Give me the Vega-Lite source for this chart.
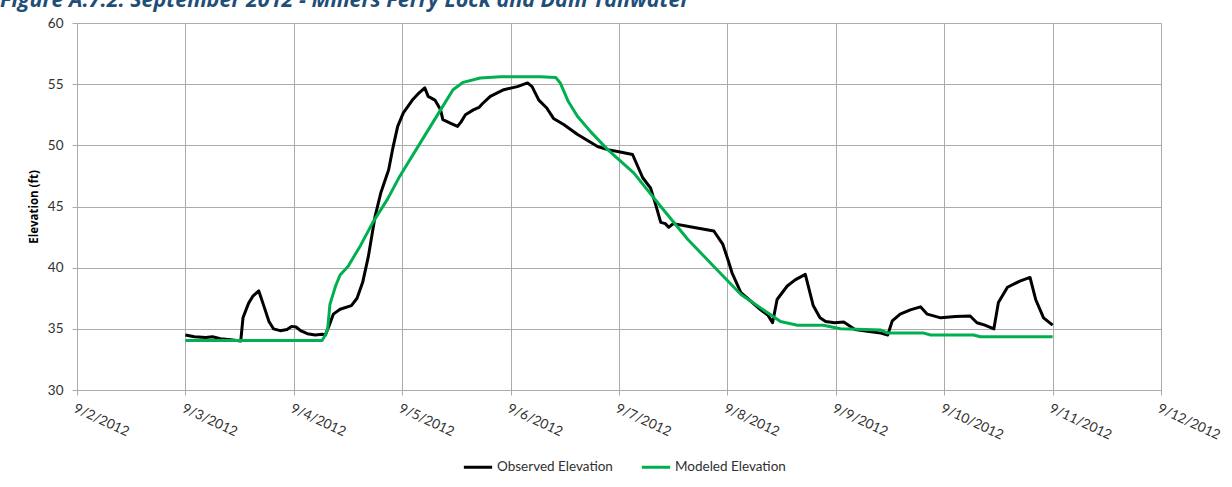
{
  "$schema": "https://vega.github.io/schema/vega-lite/v6.json",
  "width": 1084,
  "height": 367,
  "autosize": "none",
  "padding": {"left": 77, "top": 23, "right": 71, "bottom": 97},
  "background": "white",
  "title": {
    "text": "Figure A.7.2. September 2012 - Millers Ferry Lock and Dam Tailwater",
    "anchor": "start",
    "frame": "group",
    "dx": -77,
    "offset": 5,
    "fontSize": 21.5,
    "fontStyle": "italic",
    "fontWeight": "bold",
    "font": "Open Sans",
    "color": "#1F4E79"
  },
  "config": {
    "view": {"stroke": null},
    "font": "Lato",
    "axis": {
      "gridColor": "#ABABAB",
      "gridWidth": 1,
      "domainColor": "#ABABAB",
      "tickColor": "#ABABAB",
      "labelColor": "#303030",
      "labelFont": "Lato",
      "labelFontSize": 13.5
    }
  },
  "data": {
    "values": [
      {"t": "2012-09-03T00:00", "s": "Observed Elevation", "v": 34.5},
      {"t": "2012-09-03T02:00", "s": "Observed Elevation", "v": 34.35},
      {"t": "2012-09-03T04:30", "s": "Observed Elevation", "v": 34.3},
      {"t": "2012-09-03T06:00", "s": "Observed Elevation", "v": 34.35},
      {"t": "2012-09-03T07:45", "s": "Observed Elevation", "v": 34.2},
      {"t": "2012-09-03T10:00", "s": "Observed Elevation", "v": 34.1},
      {"t": "2012-09-03T12:15", "s": "Observed Elevation", "v": 34.0},
      {"t": "2012-09-03T12:45", "s": "Observed Elevation", "v": 35.9},
      {"t": "2012-09-03T14:00", "s": "Observed Elevation", "v": 37.1},
      {"t": "2012-09-03T15:00", "s": "Observed Elevation", "v": 37.7},
      {"t": "2012-09-03T16:15", "s": "Observed Elevation", "v": 38.1},
      {"t": "2012-09-03T17:15", "s": "Observed Elevation", "v": 37.0},
      {"t": "2012-09-03T18:30", "s": "Observed Elevation", "v": 35.6},
      {"t": "2012-09-03T19:30", "s": "Observed Elevation", "v": 35.0},
      {"t": "2012-09-03T21:00", "s": "Observed Elevation", "v": 34.85},
      {"t": "2012-09-03T22:30", "s": "Observed Elevation", "v": 34.95},
      {"t": "2012-09-03T23:30", "s": "Observed Elevation", "v": 35.2},
      {"t": "2012-09-04T00:30", "s": "Observed Elevation", "v": 35.15},
      {"t": "2012-09-04T01:30", "s": "Observed Elevation", "v": 34.85},
      {"t": "2012-09-04T03:00", "s": "Observed Elevation", "v": 34.6},
      {"t": "2012-09-04T04:45", "s": "Observed Elevation", "v": 34.5},
      {"t": "2012-09-04T06:15", "s": "Observed Elevation", "v": 34.55},
      {"t": "2012-09-04T07:00", "s": "Observed Elevation", "v": 34.5},
      {"t": "2012-09-04T07:45", "s": "Observed Elevation", "v": 35.2},
      {"t": "2012-09-04T08:45", "s": "Observed Elevation", "v": 36.2},
      {"t": "2012-09-04T10:15", "s": "Observed Elevation", "v": 36.6},
      {"t": "2012-09-04T12:45", "s": "Observed Elevation", "v": 36.9},
      {"t": "2012-09-04T14:00", "s": "Observed Elevation", "v": 37.5},
      {"t": "2012-09-04T15:15", "s": "Observed Elevation", "v": 38.8},
      {"t": "2012-09-04T16:30", "s": "Observed Elevation", "v": 40.9},
      {"t": "2012-09-04T18:00", "s": "Observed Elevation", "v": 44.2},
      {"t": "2012-09-04T19:15", "s": "Observed Elevation", "v": 46.1},
      {"t": "2012-09-04T21:00", "s": "Observed Elevation", "v": 48.0},
      {"t": "2012-09-04T22:00", "s": "Observed Elevation", "v": 49.9},
      {"t": "2012-09-04T23:00", "s": "Observed Elevation", "v": 51.55},
      {"t": "2012-09-05T00:15", "s": "Observed Elevation", "v": 52.65},
      {"t": "2012-09-05T02:15", "s": "Observed Elevation", "v": 53.7},
      {"t": "2012-09-05T03:30", "s": "Observed Elevation", "v": 54.2},
      {"t": "2012-09-05T05:00", "s": "Observed Elevation", "v": 54.7},
      {"t": "2012-09-05T05:45", "s": "Observed Elevation", "v": 54.0},
      {"t": "2012-09-05T07:15", "s": "Observed Elevation", "v": 53.7},
      {"t": "2012-09-05T08:30", "s": "Observed Elevation", "v": 52.9},
      {"t": "2012-09-05T09:00", "s": "Observed Elevation", "v": 52.1},
      {"t": "2012-09-05T10:45", "s": "Observed Elevation", "v": 51.8},
      {"t": "2012-09-05T12:15", "s": "Observed Elevation", "v": 51.55},
      {"t": "2012-09-05T13:00", "s": "Observed Elevation", "v": 51.9},
      {"t": "2012-09-05T14:00", "s": "Observed Elevation", "v": 52.5},
      {"t": "2012-09-05T15:45", "s": "Observed Elevation", "v": 52.9},
      {"t": "2012-09-05T17:00", "s": "Observed Elevation", "v": 53.1},
      {"t": "2012-09-05T17:45", "s": "Observed Elevation", "v": 53.4},
      {"t": "2012-09-05T19:30", "s": "Observed Elevation", "v": 54.0},
      {"t": "2012-09-05T22:30", "s": "Observed Elevation", "v": 54.55},
      {"t": "2012-09-06T01:30", "s": "Observed Elevation", "v": 54.8},
      {"t": "2012-09-06T03:45", "s": "Observed Elevation", "v": 55.1},
      {"t": "2012-09-06T04:45", "s": "Observed Elevation", "v": 54.8},
      {"t": "2012-09-06T06:15", "s": "Observed Elevation", "v": 53.7},
      {"t": "2012-09-06T08:00", "s": "Observed Elevation", "v": 53.05},
      {"t": "2012-09-06T09:30", "s": "Observed Elevation", "v": 52.2},
      {"t": "2012-09-06T11:45", "s": "Observed Elevation", "v": 51.7},
      {"t": "2012-09-06T14:45", "s": "Observed Elevation", "v": 50.9},
      {"t": "2012-09-06T19:15", "s": "Observed Elevation", "v": 49.9},
      {"t": "2012-09-06T21:30", "s": "Observed Elevation", "v": 49.65},
      {"t": "2012-09-07T00:15", "s": "Observed Elevation", "v": 49.45},
      {"t": "2012-09-07T03:00", "s": "Observed Elevation", "v": 49.25},
      {"t": "2012-09-07T05:15", "s": "Observed Elevation", "v": 47.35},
      {"t": "2012-09-07T07:00", "s": "Observed Elevation", "v": 46.5},
      {"t": "2012-09-07T08:00", "s": "Observed Elevation", "v": 45.3},
      {"t": "2012-09-07T09:15", "s": "Observed Elevation", "v": 43.7},
      {"t": "2012-09-07T10:15", "s": "Observed Elevation", "v": 43.6},
      {"t": "2012-09-07T11:00", "s": "Observed Elevation", "v": 43.3},
      {"t": "2012-09-07T12:00", "s": "Observed Elevation", "v": 43.6},
      {"t": "2012-09-07T15:45", "s": "Observed Elevation", "v": 43.35},
      {"t": "2012-09-07T21:00", "s": "Observed Elevation", "v": 43.0},
      {"t": "2012-09-07T23:00", "s": "Observed Elevation", "v": 41.9},
      {"t": "2012-09-08T00:15", "s": "Observed Elevation", "v": 40.5},
      {"t": "2012-09-08T01:00", "s": "Observed Elevation", "v": 39.6},
      {"t": "2012-09-08T03:00", "s": "Observed Elevation", "v": 37.95},
      {"t": "2012-09-08T07:15", "s": "Observed Elevation", "v": 36.6},
      {"t": "2012-09-08T09:00", "s": "Observed Elevation", "v": 36.1},
      {"t": "2012-09-08T10:00", "s": "Observed Elevation", "v": 35.5},
      {"t": "2012-09-08T11:00", "s": "Observed Elevation", "v": 37.4},
      {"t": "2012-09-08T13:15", "s": "Observed Elevation", "v": 38.5},
      {"t": "2012-09-08T15:00", "s": "Observed Elevation", "v": 39.0},
      {"t": "2012-09-08T17:15", "s": "Observed Elevation", "v": 39.45},
      {"t": "2012-09-08T19:00", "s": "Observed Elevation", "v": 36.9},
      {"t": "2012-09-08T20:30", "s": "Observed Elevation", "v": 35.9},
      {"t": "2012-09-08T21:45", "s": "Observed Elevation", "v": 35.6},
      {"t": "2012-09-08T23:45", "s": "Observed Elevation", "v": 35.5},
      {"t": "2012-09-09T01:45", "s": "Observed Elevation", "v": 35.55},
      {"t": "2012-09-09T04:15", "s": "Observed Elevation", "v": 34.95},
      {"t": "2012-09-09T07:00", "s": "Observed Elevation", "v": 34.8},
      {"t": "2012-09-09T10:00", "s": "Observed Elevation", "v": 34.65},
      {"t": "2012-09-09T11:30", "s": "Observed Elevation", "v": 34.5},
      {"t": "2012-09-09T12:30", "s": "Observed Elevation", "v": 35.65},
      {"t": "2012-09-09T14:15", "s": "Observed Elevation", "v": 36.2},
      {"t": "2012-09-09T16:30", "s": "Observed Elevation", "v": 36.55},
      {"t": "2012-09-09T18:45", "s": "Observed Elevation", "v": 36.8},
      {"t": "2012-09-09T20:15", "s": "Observed Elevation", "v": 36.2},
      {"t": "2012-09-09T23:15", "s": "Observed Elevation", "v": 35.9},
      {"t": "2012-09-10T02:30", "s": "Observed Elevation", "v": 36.0},
      {"t": "2012-09-10T05:45", "s": "Observed Elevation", "v": 36.05},
      {"t": "2012-09-10T07:15", "s": "Observed Elevation", "v": 35.5},
      {"t": "2012-09-10T09:00", "s": "Observed Elevation", "v": 35.3},
      {"t": "2012-09-10T11:00", "s": "Observed Elevation", "v": 35.0},
      {"t": "2012-09-10T12:00", "s": "Observed Elevation", "v": 37.15},
      {"t": "2012-09-10T14:00", "s": "Observed Elevation", "v": 38.4},
      {"t": "2012-09-10T16:45", "s": "Observed Elevation", "v": 38.9},
      {"t": "2012-09-10T19:00", "s": "Observed Elevation", "v": 39.2},
      {"t": "2012-09-10T20:15", "s": "Observed Elevation", "v": 37.4},
      {"t": "2012-09-10T22:00", "s": "Observed Elevation", "v": 35.9},
      {"t": "2012-09-11T00:00", "s": "Observed Elevation", "v": 35.3},
      {"t": "2012-09-03T00:00", "s": "Modeled Elevation", "v": 34.05},
      {"t": "2012-09-04T06:15", "s": "Modeled Elevation", "v": 34.05},
      {"t": "2012-09-04T07:00", "s": "Modeled Elevation", "v": 34.5},
      {"t": "2012-09-04T07:30", "s": "Modeled Elevation", "v": 35.0},
      {"t": "2012-09-04T08:00", "s": "Modeled Elevation", "v": 37.0},
      {"t": "2012-09-04T09:15", "s": "Modeled Elevation", "v": 38.5},
      {"t": "2012-09-04T10:15", "s": "Modeled Elevation", "v": 39.4},
      {"t": "2012-09-04T12:00", "s": "Modeled Elevation", "v": 40.1},
      {"t": "2012-09-04T14:45", "s": "Modeled Elevation", "v": 41.8},
      {"t": "2012-09-04T17:30", "s": "Modeled Elevation", "v": 43.7},
      {"t": "2012-09-04T20:45", "s": "Modeled Elevation", "v": 45.6},
      {"t": "2012-09-04T23:30", "s": "Modeled Elevation", "v": 47.5},
      {"t": "2012-09-05T04:00", "s": "Modeled Elevation", "v": 50.2},
      {"t": "2012-09-05T08:30", "s": "Modeled Elevation", "v": 52.9},
      {"t": "2012-09-05T11:15", "s": "Modeled Elevation", "v": 54.55},
      {"t": "2012-09-05T13:30", "s": "Modeled Elevation", "v": 55.15},
      {"t": "2012-09-05T17:15", "s": "Modeled Elevation", "v": 55.5},
      {"t": "2012-09-05T21:45", "s": "Modeled Elevation", "v": 55.6},
      {"t": "2012-09-06T06:30", "s": "Modeled Elevation", "v": 55.6},
      {"t": "2012-09-06T10:00", "s": "Modeled Elevation", "v": 55.55},
      {"t": "2012-09-06T11:00", "s": "Modeled Elevation", "v": 55.1},
      {"t": "2012-09-06T12:45", "s": "Modeled Elevation", "v": 53.6},
      {"t": "2012-09-06T14:45", "s": "Modeled Elevation", "v": 52.4},
      {"t": "2012-09-06T17:45", "s": "Modeled Elevation", "v": 51.1},
      {"t": "2012-09-06T21:30", "s": "Modeled Elevation", "v": 49.65},
      {"t": "2012-09-07T03:15", "s": "Modeled Elevation", "v": 47.75},
      {"t": "2012-09-07T09:15", "s": "Modeled Elevation", "v": 45.0},
      {"t": "2012-09-07T15:15", "s": "Modeled Elevation", "v": 42.3},
      {"t": "2012-09-07T21:00", "s": "Modeled Elevation", "v": 40.1},
      {"t": "2012-09-08T03:00", "s": "Modeled Elevation", "v": 37.8},
      {"t": "2012-09-08T09:00", "s": "Modeled Elevation", "v": 36.3},
      {"t": "2012-09-08T11:45", "s": "Modeled Elevation", "v": 35.6},
      {"t": "2012-09-08T15:30", "s": "Modeled Elevation", "v": 35.3},
      {"t": "2012-09-08T21:15", "s": "Modeled Elevation", "v": 35.3},
      {"t": "2012-09-09T01:00", "s": "Modeled Elevation", "v": 35.0},
      {"t": "2012-09-09T10:00", "s": "Modeled Elevation", "v": 34.9},
      {"t": "2012-09-09T11:30", "s": "Modeled Elevation", "v": 34.65},
      {"t": "2012-09-09T19:30", "s": "Modeled Elevation", "v": 34.65},
      {"t": "2012-09-09T21:00", "s": "Modeled Elevation", "v": 34.5},
      {"t": "2012-09-10T06:30", "s": "Modeled Elevation", "v": 34.5},
      {"t": "2012-09-10T08:00", "s": "Modeled Elevation", "v": 34.35},
      {"t": "2012-09-11T00:00", "s": "Modeled Elevation", "v": 34.35}
    ]
  },
  "mark": {"type": "line", "strokeWidth": 3, "strokeJoin": "round", "strokeCap": "butt", "clip": true},
  "encoding": {
    "x": {
      "field": "t",
      "type": "temporal",
      "scale": {
        "domain": [
          {"year": 2012, "month": 9, "date": 2},
          {"year": 2012, "month": 9, "date": 12}
        ]
      },
      "axis": {
        "title": null,
        "values": [
          {"year": 2012, "month": 9, "date": 2},
          {"year": 2012, "month": 9, "date": 3},
          {"year": 2012, "month": 9, "date": 4},
          {"year": 2012, "month": 9, "date": 5},
          {"year": 2012, "month": 9, "date": 6},
          {"year": 2012, "month": 9, "date": 7},
          {"year": 2012, "month": 9, "date": 8},
          {"year": 2012, "month": 9, "date": 9},
          {"year": 2012, "month": 9, "date": 10},
          {"year": 2012, "month": 9, "date": 11},
          {"year": 2012, "month": 9, "date": 12}
        ],
        "format": "%-m/%-d/%Y",
        "labelAngle": 25,
        "labelAlign": "left",
        "labelBaseline": "top",
        "labelPadding": 6,
        "labelOverlap": false,
        "labelFlush": false,
        "tickSize": 5,
        "grid": true
      }
    },
    "y": {
      "field": "v",
      "type": "quantitative",
      "scale": {"domain": [30, 60], "nice": false, "zero": false},
      "axis": {
        "title": "Elevation (ft)",
        "titleFontSize": 11.5,
        "titleFontWeight": "bold",
        "titleColor": "#000000",
        "titleFont": "Open Sans",
        "titlePadding": 8,
        "values": [30, 35, 40, 45, 50, 55, 60],
        "tickSize": 5,
        "labelPadding": 9,
        "grid": true
      }
    },
    "color": {
      "field": "s",
      "type": "nominal",
      "sort": ["Observed Elevation", "Modeled Elevation"],
      "scale": {
        "domain": ["Observed Elevation", "Modeled Elevation"],
        "range": ["#000000", "#00B050"]
      },
      "legend": {
        "title": null,
        "orient": "none",
        "legendX": 385,
        "legendY": 428,
        "direction": "horizontal",
        "symbolType": "stroke",
        "symbolStrokeWidth": 3,
        "symbolSize": 800,
        "labelFontSize": 13.5,
        "labelFont": "Lato",
        "labelColor": "#303030",
        "columnPadding": 22,
        "labelOffset": 3
      }
    }
  }
}
